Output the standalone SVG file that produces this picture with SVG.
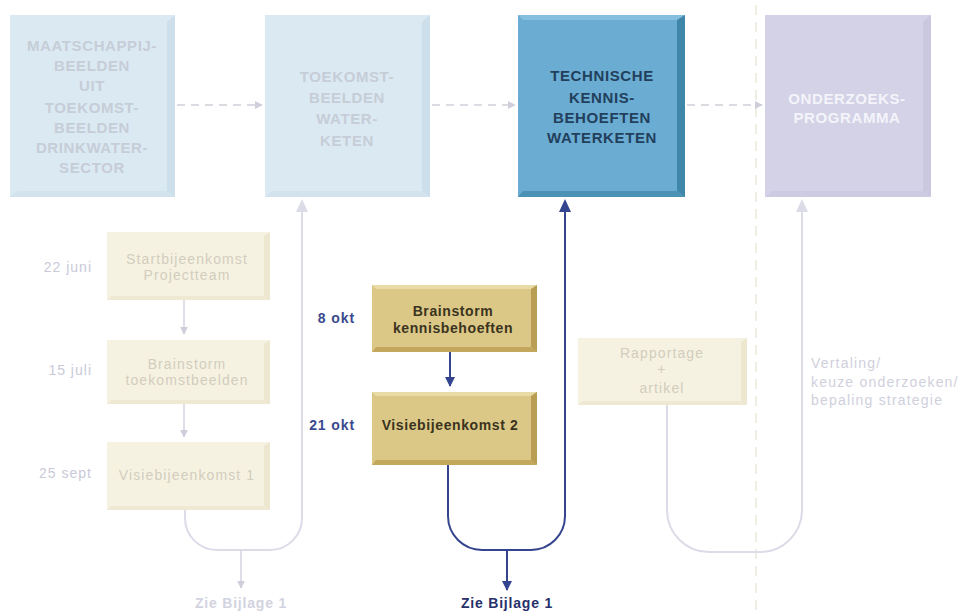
<svg xmlns="http://www.w3.org/2000/svg" width="965" height="615" viewBox="0 0 965 615">
  <style>
    .big { font-family: "Liberation Sans", Arial, sans-serif; font-size: 15px; font-weight: bold; letter-spacing: 0.6px; text-anchor: middle; }
    .fadedBig { fill: #c6cdd7; }
    .small { font-family: "Liberation Sans", Arial, sans-serif; font-size: 14px; letter-spacing: 1.1px; text-anchor: middle; fill: #d2cdbd; }
    .date { font-family: "Liberation Sans", Arial, sans-serif; font-size: 14px; letter-spacing: 1px; text-anchor: end; fill: #c9cad8; }
    .dateOn { font-family: "Liberation Sans", Arial, sans-serif; font-size: 14px; font-weight: bold; letter-spacing: 0.9px; text-anchor: end; fill: #3a4a8e; }
    .gold { font-family: "Liberation Sans", Arial, sans-serif; font-size: 14px; font-weight: bold; letter-spacing: 0.6px; text-anchor: middle; fill: #3a3320; }
    .note { font-family: "Liberation Sans", Arial, sans-serif; font-size: 14px; letter-spacing: 1.2px; fill: #cfd0dc; }
    .ref { font-family: "Liberation Sans", Arial, sans-serif; font-size: 14px; font-weight: bold; letter-spacing: 0.8px; text-anchor: middle; }
    .dash { fill: none; stroke: #cfcfdc; stroke-width: 1.6; stroke-dasharray: 8 6; }
    .faint { fill: none; stroke: #dcdce8; stroke-width: 2; }
    .faintV { fill: none; stroke: #d6d6e4; stroke-width: 1.6; }
    .navy { fill: none; stroke: #34448e; stroke-width: 2; }
  </style>
  <defs>
    <marker id="headFaint" viewBox="0 0 10 10" refX="9" refY="5" markerWidth="5" markerHeight="5" orient="auto">
      <path d="M0,0 L10,5 L0,10 z" fill="#cfcfdc"/>
    </marker>
    <marker id="headNavy" viewBox="0 0 10 10" refX="9" refY="5" markerWidth="5" markerHeight="5" orient="auto">
      <path d="M0,0 L10,5 L0,10 z" fill="#34448e"/>
    </marker>
  </defs>

  <rect width="965" height="615" fill="#ffffff"/>

  <!-- phase divider -->
  <line x1="756" y1="5" x2="756" y2="610" stroke="#ebe7da" stroke-width="1.5" stroke-dasharray="10 7"/>

  <!-- top row -->
  <g id="maatschappijbeelden">
    <rect x="10" y="15" width="165" height="182" fill="#dbe9f3"/>
    <polygon points="167,22 175,15 175,197 167,191" fill="#cddfeb"/>
    <polygon points="10,197 17,191 167,191 175,197" fill="#d2e3ee"/>
    <text class="big fadedBig" x="92" y="51">MAATSCHAPPIJ-</text>
    <text class="big fadedBig" x="92" y="71">BEELDEN</text>
    <text class="big fadedBig" x="92" y="91">UIT</text>
    <text class="big fadedBig" x="92" y="113">TOEKOMST-</text>
    <text class="big fadedBig" x="92" y="133">BEELDEN</text>
    <text class="big fadedBig" x="92" y="153">DRINKWATER-</text>
    <text class="big fadedBig" x="92" y="173">SECTOR</text>
  </g>

  <g id="toekomstbeelden">
    <rect x="265" y="15" width="165" height="182" fill="#dbe9f3"/>
    <polygon points="422,22 430,15 430,197 422,191" fill="#cddfeb"/>
    <polygon points="265,197 272,191 422,191 430,197" fill="#d2e3ee"/>
    <text class="big fadedBig" x="347" y="82">TOEKOMST-</text>
    <text class="big fadedBig" x="347" y="103">BEELDEN</text>
    <text class="big fadedBig" x="347" y="124">WATER-</text>
    <text class="big fadedBig" x="347" y="146">KETEN</text>
  </g>

  <g id="kennisbehoeften">
    <rect x="518" y="15" width="167" height="182" fill="#6aacd2"/>
    <polygon points="518,15 685,15 677,20 523,20" fill="#86bedf"/>
    <polygon points="677,20 685,15 685,197 677,191" fill="#3f87a9"/>
    <polygon points="518,197 523,191 677,191 685,197" fill="#4b92b4"/>
    <text class="big" x="602" y="81" fill="#22405c">TECHNISCHE</text>
    <text class="big" x="602" y="103" fill="#22405c">KENNIS-</text>
    <text class="big" x="602" y="123" fill="#22405c">BEHOEFTEN</text>
    <text class="big" x="602" y="143" fill="#22405c">WATERKETEN</text>
  </g>

  <g id="onderzoeksprogramma">
    <rect x="765" y="15" width="166" height="182" fill="#d3d2e6"/>
    <polygon points="923,22 931,15 931,197 923,191" fill="#c9c8df"/>
    <polygon points="765,197 772,191 923,191 931,197" fill="#cccbe1"/>
    <text class="big" x="847" y="104" fill="#f4f4fa">ONDERZOEKS-</text>
    <text class="big" x="847" y="123" fill="#f4f4fa">PROGRAMMA</text>
  </g>

  <!-- left column, earlier meetings -->
  <g id="startbijeenkomst">
    <rect x="107" y="232" width="163" height="68" fill="#f6f2e2"/>
    <polygon points="264,236 270,232 270,300 264,296" fill="#ede7d0"/>
    <polygon points="107,300 111,296 264,296 270,300" fill="#efe9d4"/>
    <text class="small" x="187" y="264">Startbijeenkomst</text>
    <text class="small" x="187" y="280">Projectteam</text>
    <text class="date" x="92" y="272">22 juni</text>
  </g>

  <g id="brainstorm-toekomst">
    <rect x="107" y="340" width="163" height="64" fill="#f6f2e2"/>
    <polygon points="264,344 270,340 270,404 264,400" fill="#ede7d0"/>
    <polygon points="107,404 111,400 264,400 270,404" fill="#efe9d4"/>
    <text class="small" x="187" y="369">Brainstorm</text>
    <text class="small" x="187" y="385">toekomstbeelden</text>
    <text class="date" x="92" y="375">15 juli</text>
  </g>

  <g id="visiebijeenkomst1">
    <rect x="107" y="442" width="163" height="68" fill="#f6f2e2"/>
    <polygon points="264,446 270,442 270,510 264,506" fill="#ede7d0"/>
    <polygon points="107,510 111,506 264,506 270,510" fill="#efe9d4"/>
    <text class="small" x="187" y="480">Visiebijeenkomst 1</text>
    <text class="date" x="92" y="478">25 sept</text>
  </g>

  <!-- middle column, current meetings -->
  <g id="brainstorm-kennis">
    <rect x="372" y="285" width="165" height="67" fill="#dcc886"/>
    <polygon points="372,285 537,285 531,289 376,289" fill="#e9dba6"/>
    <polygon points="531,289 537,285 537,352 531,347" fill="#b99d53"/>
    <polygon points="372,352 376,347 531,347 537,352" fill="#c3a75c"/>
    <text class="gold" x="453" y="316">Brainstorm</text>
    <text class="gold" x="453" y="333">kennisbehoeften</text>
    <text class="dateOn" x="355" y="323">8 okt</text>
  </g>

  <g id="visiebijeenkomst2">
    <rect x="372" y="392" width="165" height="73" fill="#dcc886"/>
    <polygon points="372,392 537,392 531,396 376,396" fill="#e9dba6"/>
    <polygon points="531,396 537,392 537,465 531,460" fill="#b99d53"/>
    <polygon points="372,465 376,460 531,460 537,465" fill="#c3a75c"/>
    <text class="gold" x="450" y="430">Visiebijeenkomst 2</text>
    <text class="dateOn" x="355" y="430">21 okt</text>
  </g>

  <!-- right column -->
  <g id="rapportage">
    <rect x="578" y="338" width="169" height="67" fill="#f6f2e2"/>
    <polygon points="741,342 747,338 747,405 741,401" fill="#ede7d0"/>
    <polygon points="578,405 582,401 741,401 747,405" fill="#efe9d4"/>
    <text class="small" x="662" y="358">Rapportage</text>
    <text class="small" x="662" y="374">+</text>
    <text class="small" x="662" y="393">artikel</text>
  </g>

  <g id="vertaling">
    <text class="note" x="811" y="368">Vertaling/</text>
    <text class="note" x="811" y="387">keuze onderzoeken/</text>
    <text class="note" x="811" y="405">bepaling strategie</text>
  </g>

  <!-- connectors -->
  <g id="connectors">
    <!-- top row flow -->
    <line class="dash" x1="177" y1="105" x2="262" y2="105" marker-end="url(#headFaint)"/>
    <line class="dash" x1="432" y1="105" x2="515" y2="105" marker-end="url(#headFaint)"/>
    <line class="dash" x1="687" y1="105" x2="762" y2="105" marker-end="url(#headFaint)"/>

    <!-- left column steps -->
    <line class="faintV" x1="184" y1="300" x2="184" y2="334" marker-end="url(#headFaint)"/>
    <line class="faintV" x1="184" y1="404" x2="184" y2="437" marker-end="url(#headFaint)"/>

    <!-- left loop -->
    <path class="faint" d="M185,510 V518 A32,32 0 0 0 217,550 H270 A32,32 0 0 0 302,518 V201"/>
    <path d="M296,212 L302,199 L308,212 z" fill="#dcdce8"/>
    <line class="faintV" x1="241" y1="550" x2="241" y2="588" marker-end="url(#headFaint)"/>
    <text class="ref" x="241" y="608" fill="#d2d3e0">Zie Bijlage 1</text>

    <!-- middle steps -->
    <line class="navy" x1="450" y1="352" x2="450" y2="386" marker-end="url(#headNavy)"/>

    <!-- middle loop -->
    <path class="navy" d="M448,465 V516 A34,34 0 0 0 482,550 H531 A34,34 0 0 0 565,516 V201"/>
    <path d="M559,212 L565,199 L571,212 z" fill="#34448e"/>
    <line class="navy" x1="507" y1="550" x2="507" y2="590" marker-end="url(#headNavy)"/>
    <text class="ref" x="507" y="608" fill="#27306a">Zie Bijlage 1</text>

    <!-- right loop -->
    <path class="faint" d="M667,405 V510 A42,42 0 0 0 709,552 H760 A42,42 0 0 0 802,510 V201"/>
    <path d="M796,212 L802,199 L808,212 z" fill="#dcdce8"/>
  </g>
</svg>
